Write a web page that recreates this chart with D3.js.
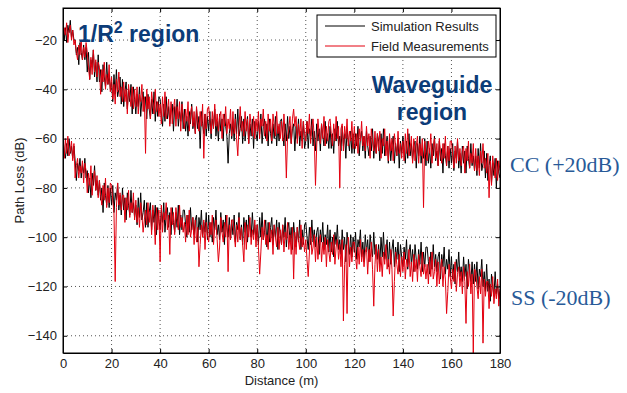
<!DOCTYPE html>
<html>
<head>
<meta charset="utf-8">
<script src="https://cdn.jsdelivr.net/npm/d3@7"></script>
<style>
  body { margin: 0; background: #fff; }
  svg { display: block; font-family: "Liberation Sans", Arial, sans-serif; }
</style>
</head>
<body>
<svg id="chart" width="627" height="393"></svg>
<script>
// sample spacing along the track (m)
const distanceStep = 0.5;

const xTicks = [0, 20, 40, 60, 80, 100, 120, 140, 160, 180];
const yTicks = [-140, -120, -100, -80, -60, -40, -20];

const seriesNames = ["Simulation Results", "Field Measurements"];

// CC case (shifted +20 dB), simulation
const ccSim = [
  -10,-20,-15,-21,-14,-17,-12,-19,-16,-20,-20,-26,-23,-30,-21,-25,-28,-22,-28,-23,
  -33,-25,-36,-28,-31,-24,-35,-29,-37,-26,-37,-32,-41,-30,-35,-39,-29,-38,-34,-40,
  -37,-45,-34,-42,-32,-43,-40,-35,-46,-36,-47,-41,-37,-48,-40,-45,-38,-50,-39,-44,
  -50,-42,-47,-39,-51,-44,-41,-49,-43,-52,-42,-48,-52,-44,-50,-41,-53,-45,-51,-43,
  -44,-50,-55,-46,-53,-43,-52,-47,-54,-48,-46,-57,-47,-52,-44,-55,-49,-53,-45,-56,
  -48,-57,-51,-59,-49,-54,-46,-56,-52,-58,-48,-56,-51,-64,-49,-54,-58,-50,-59,-51,
  -57,-49,-60,-52,-55,-48,-59,-53,-61,-50,-57,-52,-61,-50,-55,-59,-70,-58,-54,-60,
  -53,-61,-50,-58,-48,-59,-56,-51,-62,-52,-61,-55,-51,-62,-54,-59,-52,-64,-53,-58,
  -61,-53,-58,-50,-62,-55,-52,-60,-54,-63,-52,-58,-62,-54,-60,-51,-63,-55,-61,-53,
  -52,-58,-63,-54,-61,-51,-60,-55,-62,-56,-54,-65,-55,-60,-52,-63,-57,-61,-53,-64,
  -61,-53,-64,-56,-59,-52,-63,-57,-65,-54,-61,-56,-65,-54,-59,-63,-53,-62,-58,-64,
  -55,-64,-58,-66,-56,-61,-53,-63,-59,-65,-55,-63,-58,-68,-56,-61,-65,-57,-66,-58,
  -66,-58,-63,-55,-67,-60,-57,-65,-59,-68,-57,-63,-67,-59,-65,-56,-68,-60,-66,-58,
  -61,-69,-58,-66,-56,-67,-64,-59,-70,-60,-69,-63,-59,-70,-62,-67,-60,-72,-61,-66,
  -59,-65,-70,-61,-68,-58,-67,-62,-69,-63,-61,-72,-62,-67,-59,-70,-64,-68,-60,-71,
  -61,-70,-64,-72,-62,-67,-59,-69,-65,-71,-61,-69,-64,-74,-62,-67,-71,-63,-72,-64,
  -70,-62,-73,-65,-68,-61,-72,-66,-74,-63,-70,-65,-74,-63,-68,-72,-62,-71,-67,-73,
  -67,-75,-64,-72,-62,-73,-70,-65,-76,-66,-77,-71,-67,-78,-70,-75,-68,-80,-69,-74,
  -76
];

// CC case, field measurements
const ccMeas = [
  -21,-15,-18,-13,-21,-16,-14,-20,-16,-22,-20,-25,-28,-22,-26,-20,-28,-23,-27,-21,
  -25,-31,-36,-27,-34,-24,-33,-28,-35,-29,-31,-42,-32,-37,-29,-40,-34,-38,-30,-41,
  -35,-44,-38,-46,-36,-41,-33,-43,-39,-45,-37,-45,-40,-50,-38,-43,-47,-39,-48,-40,
  -47,-39,-50,-42,-45,-38,-49,-43,-66,-40,-48,-43,-52,-41,-46,-50,-40,-49,-45,-51,
  -46,-54,-43,-51,-41,-52,-49,-44,-55,-45,-54,-48,-44,-55,-47,-52,-45,-57,-46,-51,
  -56,-48,-53,-45,-57,-50,-47,-55,-49,-58,-47,-53,-57,-49,-55,-46,-68,-50,-56,-48,
  -47,-53,-58,-49,-56,-46,-55,-50,-57,-51,-49,-60,-50,-55,-47,-58,-52,-56,-48,-59,
  -49,-58,-52,-60,-67,-55,-47,-57,-53,-59,-49,-57,-52,-62,-50,-55,-59,-51,-60,-52,
  -57,-49,-60,-52,-55,-48,-59,-53,-61,-50,-57,-52,-61,-50,-55,-59,-49,-58,-54,-60,
  -53,-61,-50,-58,-76,-59,-56,-51,-62,-52,-48,-55,-51,-62,-54,-59,-52,-64,-53,-58,
  -61,-53,-58,-50,-62,-55,-52,-60,-79,-63,-52,-58,-62,-54,-60,-51,-63,-55,-61,-53,
  -52,-58,-63,-54,-61,-51,-60,-55,-80,-56,-54,-65,-55,-60,-52,-63,-57,-61,-53,-64,
  -55,-64,-58,-66,-56,-61,-53,-63,-59,-65,-55,-63,-58,-68,-56,-61,-65,-57,-66,-58,
  -65,-57,-68,-60,-63,-56,-67,-61,-69,-58,-65,-60,-69,-58,-63,-67,-57,-66,-62,-68,
  -61,-69,-58,-66,-56,-67,-64,-59,-70,-60,-69,-63,-59,-70,-62,-67,-60,-88,-61,-66,
  -69,-61,-66,-58,-70,-63,-60,-68,-62,-71,-60,-66,-70,-62,-68,-59,-71,-63,-69,-61,
  -61,-67,-72,-63,-70,-60,-69,-64,-71,-65,-63,-74,-64,-69,-61,-72,-66,-70,-62,-73,
  -64,-73,-67,-75,-65,-70,-62,-72,-68,-74,-66,-84,-69,-79,-67,-72,-76,-68,-77,-69,
  -73
];

// SS case (shifted -20 dB), simulation
const ssSim = [
  -60,-65,-68,-62,-67,-60,-66,-63,-68,-63,-69,-77,-70,-73,-68,-76,-71,-74,-68,-76,
  -73,-82,-76,-84,-74,-79,-71,-81,-77,-83,-77,-85,-80,-90,-78,-83,-87,-79,-88,-80,
  -87,-79,-90,-82,-85,-78,-89,-83,-91,-80,-89,-84,-93,-82,-87,-91,-81,-90,-86,-92,
  -87,-95,-84,-92,-82,-93,-90,-85,-96,-86,-96,-90,-86,-97,-89,-94,-87,-99,-88,-93,
  -97,-89,-94,-86,-98,-91,-88,-96,-90,-99,-88,-94,-98,-90,-96,-87,-99,-91,-97,-89,
  -89,-95,-100,-91,-98,-88,-97,-92,-99,-93,-91,-102,-92,-97,-89,-100,-94,-98,-90,-101,
  -91,-100,-94,-102,-92,-97,-89,-99,-95,-101,-90,-98,-93,-103,-91,-96,-100,-92,-101,-93,
  -99,-91,-102,-94,-97,-90,-101,-95,-103,-92,-98,-93,-102,-91,-96,-100,-90,-99,-95,-101,
  -95,-103,-92,-100,-90,-101,-98,-93,-104,-94,-102,-96,-92,-103,-95,-100,-93,-105,-94,-99,
  -103,-95,-100,-92,-104,-97,-94,-102,-96,-105,-94,-100,-104,-96,-102,-93,-105,-97,-103,-95,
  -94,-100,-105,-96,-103,-93,-102,-97,-104,-98,-96,-107,-97,-102,-94,-105,-99,-103,-95,-106,
  -97,-106,-100,-108,-98,-103,-95,-105,-101,-107,-97,-105,-100,-110,-98,-103,-107,-99,-108,-100,
  -106,-98,-109,-101,-104,-97,-108,-102,-110,-99,-106,-101,-110,-99,-104,-108,-98,-107,-103,-109,
  -103,-111,-100,-108,-98,-109,-106,-101,-112,-102,-111,-105,-101,-112,-104,-109,-102,-114,-103,-108,
  -112,-104,-109,-101,-113,-106,-103,-111,-105,-114,-103,-109,-113,-105,-111,-102,-114,-106,-112,-104,
  -104,-110,-115,-106,-113,-103,-112,-107,-114,-108,-106,-117,-107,-112,-104,-115,-109,-113,-105,-116,
  -108,-117,-111,-119,-109,-114,-106,-116,-112,-118,-108,-116,-111,-121,-109,-114,-118,-110,-119,-111,
  -118,-110,-121,-113,-116,-109,-120,-114,-122,-111,-122,-117,-126,-115,-120,-124,-114,-123,-119,-125,
  -122
];

// SS case, field measurements
const ssMeas = [
  -63,-68,-60,-66,-59,-67,-65,-61,-69,-62,-76,-71,-68,-76,-71,-74,-69,-78,-70,-73,
  -82,-74,-79,-71,-83,-76,-73,-81,-75,-84,-77,-83,-87,-79,-85,-76,-88,-80,-86,-78,
  -79,-85,-90,-118,-88,-78,-87,-82,-89,-83,-83,-94,-84,-89,-81,-92,-86,-90,-82,-93,
  -85,-94,-88,-96,-86,-91,-98,-93,-89,-95,-86,-94,-89,-99,-87,-92,-103,-88,-97,-89,
  -110,-87,-98,-90,-93,-86,-97,-91,-107,-88,-95,-90,-99,-88,-93,-97,-87,-96,-92,-98,
  -94,-102,-91,-99,-89,-100,-97,-92,-103,-93,-102,-96,-112,-103,-95,-100,-93,-105,-94,-99,
  -102,-94,-99,-91,-103,-96,-93,-101,-110,-104,-92,-98,-102,-94,-100,-91,-114,-95,-101,-93,
  -93,-99,-104,-95,-102,-92,-101,-96,-103,-110,-94,-105,-95,-100,-92,-103,-97,-101,-93,-104,
  -95,-104,-115,-106,-96,-101,-93,-103,-99,-105,-94,-102,-97,-107,-95,-100,-104,-96,-105,-97,
  -103,-95,-106,-98,-101,-94,-105,-99,-107,-96,-117,-98,-107,-96,-101,-105,-95,-104,-100,-106,
  -101,-109,-116,-106,-96,-107,-104,-99,-110,-100,-109,-103,-99,-110,-102,-107,-100,-112,-101,-106,
  -110,-102,-107,-99,-111,-104,-101,-109,-103,-112,-101,-134,-111,-103,-131,-100,-112,-104,-110,-102,
  -102,-108,-113,-104,-111,-101,-110,-105,-112,-106,-104,-115,-105,-110,-102,-113,-128,-111,-103,-114,
  -105,-114,-108,-116,-106,-111,-103,-113,-109,-115,-105,-113,-132,-118,-106,-111,-115,-107,-116,-108,
  -114,-106,-117,-109,-112,-105,-116,-110,-118,-107,-114,-109,-118,-107,-112,-116,-106,-115,-111,-117,
  -111,-119,-108,-116,-106,-117,-114,-109,-120,-110,-119,-113,-109,-120,-112,-117,-131,-122,-111,-116,
  -121,-113,-118,-110,-122,-115,-112,-120,-114,-123,-112,-118,-135,-114,-120,-111,-123,-115,-147,-113,
  -114,-120,-125,-116,-123,-113,-143,-117,-124,-118,-118,-129,-119,-124,-116,-127,-121,-125,-117,-128,
  -121
];

const svg = d3.select("#chart");
const margin = { top: 8, right: 127, bottom: 40, left: 63 };
const width = 627 - margin.left - margin.right;
const height = 393 - margin.top - margin.bottom;

const x = d3.scaleLinear().domain([0, 180]).range([0, width]);
const y = d3.scaleLinear().domain([-147, -7]).range([height, 0]);

const g = svg.append("g")
  .attr("transform", "translate(" + margin.left + "," + margin.top + ")");

// dotted grid
g.append("g").selectAll("line")
  .data(xTicks.slice(1, -1))
  .enter().append("line")
  .attr("x1", d => x(d)).attr("x2", d => x(d))
  .attr("y1", 0).attr("y2", height)
  .attr("stroke", "#555").attr("stroke-dasharray", "1,3");
g.append("g").selectAll("line")
  .data(yTicks)
  .enter().append("line")
  .attr("x1", 0).attr("x2", width)
  .attr("y1", d => y(d)).attr("y2", d => y(d))
  .attr("stroke", "#555").attr("stroke-dasharray", "1,3");

// traces
const line = d3.line()
  .x((d, i) => x(i * distanceStep))
  .y(d => y(d));

svg.append("clipPath").attr("id", "plotArea")
  .append("rect").attr("width", width).attr("height", height);

const traces = g.append("g").attr("clip-path", "url(#plotArea)");
[[ccSim, "#000"], [ccMeas, "#e3000f"], [ssSim, "#000"], [ssMeas, "#e3000f"]]
  .forEach(([vals, col]) => {
    traces.append("path")
      .datum(vals)
      .attr("fill", "none")
      .attr("stroke", col)
      .attr("stroke-width", 1)
      .attr("d", line);
  });

// axes (matlab-style ticks pointing in)
const axisFont = g => g.selectAll("text")
  .attr("font-size", 13).attr("fill", "#222")
  .attr("font-family", "Liberation Sans, Arial, sans-serif");

g.append("g")
  .attr("transform", "translate(0," + height + ")")
  .call(d3.axisBottom(x).tickValues(xTicks).tickSize(-4).tickPadding(6).tickSizeOuter(0))
  .call(axisFont);
g.append("g")
  .call(d3.axisTop(x).tickValues(xTicks).tickSize(-4).tickFormat("").tickSizeOuter(0));
g.append("g")
  .call(d3.axisLeft(y).tickValues(yTicks).tickSize(-4).tickPadding(6).tickSizeOuter(0))
  .call(axisFont);
g.append("g")
  .attr("transform", "translate(" + width + ",0)")
  .call(d3.axisRight(y).tickValues(yTicks).tickSize(-4).tickFormat("").tickSizeOuter(0));

g.selectAll(".domain").attr("stroke", "#000");
g.selectAll(".tick line").attr("stroke", "#000");

g.append("rect")
  .attr("width", width).attr("height", height)
  .attr("fill", "none").attr("stroke", "#000");

// axis titles
svg.append("text")
  .attr("x", margin.left + x(90)).attr("y", 385)
  .attr("text-anchor", "middle")
  .attr("font-size", 13).attr("fill", "#222")
  .text("Distance (m)");
svg.append("text")
  .attr("transform", "translate(24," + (margin.top + height / 2) + ") rotate(-90)")
  .attr("text-anchor", "middle")
  .attr("font-size", 13).attr("fill", "#222")
  .text("Path Loss (dB)");

// legend
const legend = svg.append("g").attr("transform", "translate(317,15)");
legend.append("rect")
  .attr("width", 179).attr("height", 42)
  .attr("fill", "#fff").attr("stroke", "#000");
seriesNames.forEach((name, i) => {
  legend.append("line")
    .attr("x1", 8).attr("x2", 48)
    .attr("y1", 11 + i * 20).attr("y2", 11 + i * 20)
    .attr("stroke", i === 0 ? "#000" : "#e3000f");
  legend.append("text")
    .attr("x", 54).attr("y", 16 + i * 20)
    .attr("font-size", 13).attr("fill", "#222")
    .text(name);
});

// annotations
const note = svg.append("g")
  .attr("font-weight", "bold").attr("font-size", 23).attr("fill", "#0c3c78");
const r2 = note.append("text").attr("x", 78).attr("y", 42);
r2.append("tspan").text("1/R");
r2.append("tspan").attr("font-size", 16).attr("dy", -9).text("2");
r2.append("tspan").attr("dy", 9).text(" region");
note.append("text").attr("x", 432).attr("y", 93)
  .attr("text-anchor", "middle").text("Waveguide");
note.append("text").attr("x", 432).attr("y", 120)
  .attr("text-anchor", "middle").text("region");

const side = svg.append("g")
  .attr("font-family", "Liberation Serif, Times New Roman, serif")
  .attr("font-size", 22).attr("fill", "#285a98");
side.append("text").attr("x", 510).attr("y", 172).text("CC (+20dB)");
side.append("text").attr("x", 511).attr("y", 305).text("SS (-20dB)");
</script>
</body>
</html>
